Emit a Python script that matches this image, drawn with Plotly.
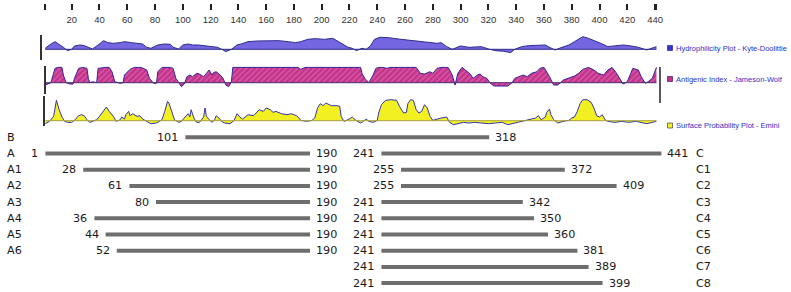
import plotly.graph_objects as go

W, H = 791, 292

# ---------------- profile data (residue, score) ----------------
kd_res = [1,4,8,10,14,17,20,22,26,29,33,35,39,43,46,50,55,58,63,68,71,74,77,82,87,91,93,97,100,104,
          107,111,115,118,122,125,129,131,135,139,142,147,154,161,169,176,181,185,190,195,202,208,212,215,219,
          222,225,229,232,235,238,242,248,255,262,270,277,283,286,290,294,300,306,312,315,320,325,331,336,339,
          344,349,355,361,364,368,373,378,382,388,392,397,402,406,411,417,423,428,434,438,441]
kd_val = [0.3,1.3,2.3,1.8,0.6,-0.4,0,1.0,1.3,1.1,0.3,0.1,1.3,2.6,2.0,1.8,2.0,2.3,2.0,1.8,
          1.6,0.6,0.3,1.3,1.6,1.5,0.6,0.1,1.3,1.6,1.3,1.3,1.1,0.8,0.8,0.6,-0.2,-0.7,0,1.3,
          1.6,2.3,2.5,2.5,2.6,2.3,2.0,2.3,3.0,3.2,3.0,3.3,2.3,1.8,0.6,
          0.3,-0.4,0.3,0,1.0,3.0,3.6,3.5,3.1,2.8,2.5,2.1,1.8,2.0,0.8,0,1.0,0.6,0.6,0.8,
          0.1,-0.4,-0.6,-1.0,0,0.8,1.1,1.3,1.3,0.6,-0.2,0.6,1.3,2.3,3.8,3.3,2.5,1.6,0.8,1.0,
          1.3,1.0,0.6,-0.2,0.3,0.8]

aj_res = [1,4,5,8,10,13,14,16,19,21,22,25,28,31,32,33,35,38,39,44,47,49,51,55,57,58,62,65,70,74,
          76,79,81,82,85,91,93,95,98,99,101,103,105,107,110,112,115,117,119,121,122,124,127,129,131,133,135,136,
          183,185,188,228,229,231,234,235,237,239,241,244,247,249,265,268,271,274,278,280,283,286,291,294,296,298,
          301,303,307,309,312,314,316,319,321,324,330,334,337,339,342,345,348,351,355,357,360,362,364,367,370,
          374,378,382,385,388,392,396,399,403,406,409,412,415,417,420,422,424,428,430,433,435,438,440,441]
aj_val = [-0.26,-0.07,0,1.59,1.7,1.7,0.85,0,-0.15,-0.15,0.48,1.59,1.7,1.59,0.48,0,0.11,0,1.59,1.7,1.7,1.22,0.11,-0.07,0,0.85,1.48,1.7,1.7,1.41,
          0.48,-0.07,-0.07,1.22,1.7,1.7,1.59,0.48,-0.26,-0.44,-0.15,0.67,0.85,0.67,1.04,0.96,0.67,1.04,1.41,0.85,1.11,1.22,0.85,0.48,-0.26,-0.44,0.11,1.7,
          1.7,1.48,1.7,1.7,1.04,0.48,0,0.3,0.85,1.59,1.7,1.7,1.59,1.7,1.7,1.7,1.04,0.96,1.22,1.04,1.59,1.7,1.7,0.85,-0.26,1.04,
          1.7,1.48,0.96,0.48,0.85,0.96,0.67,0.48,0,-0.37,-0.37,-0.37,0,0.48,0.67,0.85,0.67,1.04,1.22,1.59,1.7,1.22,0.67,-0.26,-0.26,
          0.3,0.48,0.74,1.04,1.48,1.7,1.41,1.04,0.85,1.41,1.7,1.11,0.3,-0.15,0.11,0.85,1.59,1.41,0.67,-0.07,0.11,0.48,1.41,1.7]

em_res = [1,4,7,8,9,11,13,15,17,20,22,25,27,29,31,33,35,38,40,43,45,47,50,52,55,56,58,59,61,62,64,67,69,71,74,77,81,85,87,89,90,92,94,97,99,
          101,104,105,106,108,110,112,115,116,117,119,121,123,124,126,128,130,134,137,139,141,143,144,147,151,153,155,158,160,163,165,167,171,175,178,
          182,185,189,193,195,197,199,201,203,207,211,213,214,216,219,
          222,224,228,230,232,234,237,240,241,243,246,250,254,256,259,261,262,264,266,268,270,272,273,274,276,278,280,283,286,290,292,295,298,
          302,306,310,315,320,325,330,334,339,344,348,350,354,356,358,361,362,364,365,367,370,374,378,380,382,384,386,388,391,394,396,398,
          400,402,404,406,411,416,421,426,430,434,438,441]
em_val = [-0.9,-0.2,1.3,3.8,6.1,3.3,1.1,-0.2,-0.5,-0.5,0.1,1.5,1.8,1.5,0.3,-0.5,-0.2,0.3,1.3,2.8,4.1,2.8,1.3,-0.2,0.3,1.1,0.5,1.8,2.8,1.5,2.1,1.3,1.5,0.5,-0.2,-0.9,-0.7,0.3,2.8,5.8,5.3,2.8,0.3,-0.5,-0.2,
          0.8,2.1,1.1,3.3,0.8,-0.5,-0.5,1.1,3.8,1.3,0.3,-0.5,0.3,1.5,0.8,-0.2,-0.7,-0.9,0.1,2.1,1.1,0.5,0.8,1.8,1.5,2.3,3.3,2.8,3.8,3.3,2.5,2.8,2.1,1.8,2.1,
          1.5,0.1,-0.2,0.1,0.8,3.8,5.1,4.5,5.3,4.5,4.5,4.3,1.3,-0.2,0.3,
          1.1,0.3,-0.7,-0.2,0.5,-0.2,-0.5,0.1,2.3,4.8,6.1,6.3,6.1,4.3,2.3,2.5,5.1,6.3,6.1,3.3,2.3,2.8,4.1,4.8,3.8,1.3,0.1,0.5,0.8,1.1,-0.5,-1.2,-0.9,
          -0.5,-0.7,-0.5,-0.7,-0.9,-0.7,-0.5,-1.2,-0.7,-0.2,0.3,0.5,0.8,1.5,0.3,1.1,2.5,3.5,1.8,0.3,-0.7,-0.2,0.1,0.8,1.1,2.8,5.1,6.3,6.3,5.5,3.8,1.5,
          1.1,1.8,0.3,-0.2,-0.5,-0.2,-0.5,-0.2,-0.5,-0.9,-0.5,-0.2]

tick_vals = [1,20,40,60,80,100,120,140,160,180,200,220,240,260,280,300,320,340,360,380,400,420,440,441]
tick_text = ["","20","40","60","80","100","120","140","160","180","200","220","240","260","280","300",
             "320","340","360","380","400","420","440",""]

track_names = ["Hydrophilicity Plot - Kyte-Doolittle", "Antigenic Index - Jameson-Wolf",
               "Surface Probability Plot - Emini"]

# ---------------- fragment data ----------------
frag_names = ["B","A","A1","A2","A3","A4","A5","A6","C","C1","C2","C3","C4","C5","C6","C7","C8"]
frag_start = [101,1,28,61,80,36,44,52,241,255,255,241,241,241,241,241,241]
frag_end   = [318,190,190,190,190,190,190,190,441,372,409,342,350,360,381,389,399]
frag_row   = [0,1,2,3,4,5,6,7,1,2,3,4,5,6,7,8,9]
frag_side  = ["L","L","L","L","L","L","L","L","R","R","R","R","R","R","R","R","R"]

# ---------------- helpers (pixel -> paper) ----------------
def px(x):
    return x / W

def py(y):
    return 1 - y / H

def yrange(base_px, px_per_unit, top_px, bot_px):
    return [(base_px - bot_px) / px_per_unit, (base_px - top_px) / px_per_unit]

fig = go.Figure()

# tracks
tracks = [
    (kd_res, kd_val, "y", "#7466e0", "#2e2e8c", None),
    (aj_res, aj_val, "y2", "#c4328a", "#33229a",
     dict(shape="/", bgcolor="#c4328a", fgcolor="#ea86c6", size=4, solidity=0.35)),
    (em_res, em_val, "y3", "#f2f020", "#3535b0", None),
]
for res, val, ya, fc, lc, pat in tracks:
    kw = dict(x=res, y=val, mode="lines", xaxis="x", yaxis=ya, fill="tozeroy",
              fillcolor=fc, line=dict(color=lc, width=1), hoverinfo="skip", showlegend=False)
    if pat:
        kw["fillpattern"] = pat
    fig.add_trace(go.Scatter(**kw))

# fragments
for n, s, e, r in zip(frag_names, frag_start, frag_end, frag_row):
    fig.add_trace(go.Scatter(x=[s, e], y=[r, r], mode="lines", xaxis="x2", yaxis="y4",
                             line=dict(color="#6e6e6e", width=4), hoverinfo="skip", showlegend=False))

ann = []
lab_font = dict(family="DejaVu Sans", size=11.2, color="#1a1a1a")
for n, s, e, r, side in zip(frag_names, frag_start, frag_end, frag_row, frag_side):
    ann.append(dict(x=s, y=r, xref="x2", yref="y4", text=str(s), showarrow=False,
                    xanchor="right", yanchor="middle", xshift=-5, font=lab_font))
    ann.append(dict(x=e, y=r, xref="x2", yref="y4", text=str(e), showarrow=False,
                    xanchor="left", yanchor="middle", xshift=4, font=lab_font))
    ann.append(dict(x=px(5) if side == "L" else px(694), y=r, xref="paper", yref="y4", text=n,
                    showarrow=False, xanchor="left", yanchor="middle", font=lab_font))

# track legends
leg_y = [48, 79, 125.5]
leg_fill = ["#3a32c8", "#c4328a", "#f2f020"]
leg_line = ["#3a32c8", "#4a2a80", "#555555"]
shapes = []
for name, yy, fc, lc in zip(track_names, leg_y, leg_fill, leg_line):
    shapes.append(dict(type="rect", xref="paper", yref="paper", x0=px(667.5), x1=px(672.5),
                       y0=py(yy + 2.5), y1=py(yy - 2.5), fillcolor=fc, line=dict(color=lc, width=0.8)))
    ann.append(dict(x=px(674), y=py(yy), xref="paper", yref="paper", text=name, showarrow=False,
                    xanchor="left", yanchor="middle",
                    font=dict(family="Liberation Sans", size=7.5, color="#2f2fc8")))

# baselines of tracks
for res, ya, col in [(kd_res, "y", "#2e2e8c"), (aj_res, "y2", "#4a2a70"), (em_res, "y3", "#a8a040")]:
    shapes.append(dict(type="line", xref="x", yref=ya, x0=res[0], x1=res[-1], y0=0, y1=0,
                       line=dict(color=col, width=1), layer="above"))
# right border of antigenic track
shapes.append(dict(type="line", xref="paper", yref="paper", x0=px(660), x1=px(660),
                   y0=py(103), y1=py(67), line=dict(color="#222222", width=1.5)))

fig.update_layout(
    width=W, height=H, margin=dict(l=0, r=0, t=0, b=0),
    paper_bgcolor="white", plot_bgcolor="white",
    showlegend=False,
    xaxis=dict(domain=[0, 1], range=[-31.61, 537.87], anchor="free", position=py(2.7), side="bottom",
               tickmode="array", tickvals=tick_vals, ticktext=tick_text, ticks="outside", ticklen=6,
               tickwidth=1.5, tickcolor="#222222", ticklabelstandoff=2,
               tickfont=dict(family="Liberation Sans", size=9.5, color="#333333"),
               showline=False, showgrid=False, zeroline=False),
    xaxis2=dict(domain=[0, 1], range=[-31.43, 533.57], anchor="y4", visible=False),
    yaxis=dict(domain=[py(60), py(35)], range=yrange(49.3, 3.333, 35, 60), anchor="free",
               position=px(41), showline=True, linecolor="#333333", linewidth=1.5,
               showticklabels=False, ticks="", showgrid=False, zeroline=False),
    yaxis2=dict(domain=[py(94), py(66)], range=yrange(82.7, 9.0, 66, 94), anchor="free",
                position=px(44.5), showline=True, linecolor="#333333", linewidth=1.5,
                showticklabels=False, ticks="", showgrid=False, zeroline=False),
    yaxis3=dict(domain=[py(126), py(96)], range=yrange(120.7, 3.333, 96, 126), anchor="free",
                position=px(44), showline=True, linecolor="#333333", linewidth=1.5,
                showticklabels=False, ticks="", showgrid=False, zeroline=False),
    yaxis4=dict(domain=[0, py(128)], range=[(292 - 137.3) / 16.2, (128 - 137.3) / 16.2],
                anchor="x2", visible=False),
    annotations=ann,
    shapes=shapes,
)

fig.write_html("out.html", config={"displayModeBar": False},
               post_script="document.body.style.margin='0';document.body.style.padding='0';")
